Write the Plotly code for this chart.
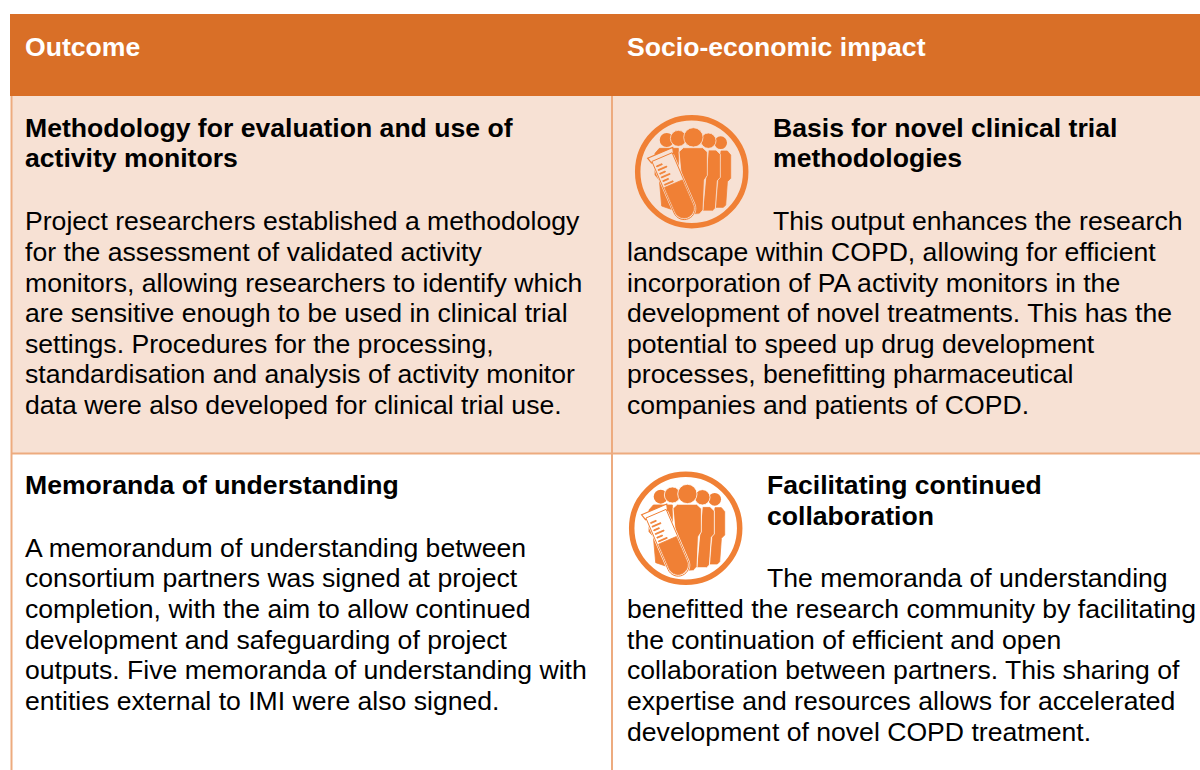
import math
import plotly.graph_objects as go

HEADERS = ["Outcome", "Socio-economic impact"]

ROW1_LEFT_TITLE = ["Methodology for evaluation and use of", "activity monitors"]
ROW1_LEFT_BODY = [
    "Project researchers established a methodology",
    "for the assessment of validated activity",
    "monitors, allowing researchers to identify which",
    "are sensitive enough to be used in clinical trial",
    "settings. Procedures for the processing,",
    "standardisation and analysis of activity monitor",
    "data were also developed for clinical trial use.",
]
ROW1_RIGHT_TITLE = ["Basis for novel clinical trial", "methodologies"]
ROW1_RIGHT_FIRST = "This output enhances the research"
ROW1_RIGHT_BODY = [
    "landscape within COPD, allowing for efficient",
    "incorporation of PA activity monitors in the",
    "development of novel treatments. This has the",
    "potential to speed up drug development",
    "processes, benefitting pharmaceutical",
    "companies and patients of COPD.",
]
ROW2_LEFT_TITLE = ["Memoranda of understanding"]
ROW2_LEFT_BODY = [
    "A memorandum of understanding between",
    "consortium partners was signed at project",
    "completion, with the aim to allow continued",
    "development and safeguarding of project",
    "outputs. Five memoranda of understanding with",
    "entities external to IMI were also signed.",
]
ROW2_RIGHT_TITLE = ["Facilitating continued", "collaboration"]
ROW2_RIGHT_FIRST = "The memoranda of understanding"
ROW2_RIGHT_BODY = [
    "benefitted the research community by facilitating",
    "the continuation of efficient and open",
    "collaboration between partners. This sharing of",
    "expertise and resources allows for accelerated",
    "development of novel COPD treatment.",
]

HEAD_BG = "#D96F27"
ROW_BG = "#F7E1D4"
RULE = "#EDAB7F"
ICON = "#F08035"
FONT = "Liberation Sans"
SIZE = 26.6

shapes, notes = [], []


def rect(x0, y0, x1, y1, color):
    shapes.append(dict(type="rect", xref="x", yref="y", x0=x0, y0=y0, x1=x1, y1=y1,
                       fillcolor=color, line=dict(width=0), layer="below"))


def text(x, y, s, bold=False, color="#000000"):
    notes.append(dict(x=x - 1, y=y, xref="x", yref="y", text=f"<b>{s}</b>" if bold else s,
                      showarrow=False, xanchor="left", yanchor="middle", align="left",
                      borderpad=0, font=dict(family=FONT, size=SIZE, color=color)))


def block(x, ys, lines, bold=False):
    for y, s in zip(ys, lines):
        text(x, y, s, bold)


# Table frame
rect(10, 14, 1200, 96, HEAD_BG)
rect(12, 96, 1200, 453, ROW_BG)
rect(10.5, 96, 12.5, 770, RULE)
rect(611, 96, 613, 770, RULE)
rect(11, 452.5, 1200, 454.5, RULE)


def icon(cx, cy, bg):
    k = 1 / 3

    def P(pts, fill, line=None, lw=0.8, close=True):
        d = ""
        for i, (a, b) in enumerate(pts):
            d += f"{'M' if i == 0 else 'L'}{cx + (a - 245) * k:.2f},{cy + (b - 215) * k:.2f} "
        shapes.append(dict(type="path", xref="x", yref="y", path=d + ("Z" if close else ""),
                           fillcolor=fill, line=dict(color=line or fill, width=lw)))

    def C(a, b, r, fill=ICON, line=None, lw=0):
        shapes.append(dict(type="circle", xref="x", yref="y",
                           x0=cx + (a - 245 - r) * k, x1=cx + (a - 245 + r) * k,
                           y0=cy + (b - 215 - r) * k, y1=cy + (b - 215 + r) * k,
                           fillcolor=fill, line=dict(color=line or fill, width=lw)))

    C(245, 215, 162, fill="rgba(0,0,0,0)", line=ICON, lw=5.5)
    # heads
    C(332, 128, 19)
    C(170, 120, 21)
    C(295, 122, 23, line=bg, lw=0.8)
    C(205, 115, 24, line=bg, lw=0.8)
    C(250, 112, 29, line=bg, lw=0.8)
    # bodies
    P([(333, 153), (352, 153), (362, 165), (362, 235), (352, 245), (347, 315), (340, 322), (318, 322)], ICON)
    P([(135, 160), (148, 145), (205, 145), (205, 335), (155, 318), (148, 240), (135, 225)], ICON)
    P([(295, 150), (318, 150), (331, 163), (331, 232), (322, 242), (316, 325), (308, 333), (278, 333)], ICON, bg)
    P([(207, 155), (220, 143), (278, 143), (292, 156), (292, 226), (283, 240), (279, 330), (268, 342), (225, 345)], ICON, bg)

    # tube, in its own axes: u across, t along
    ux, uy = 0.919, -0.395
    tx, ty = 0.395, 0.919
    ox, oy = 152, 162

    def T(u, t):
        return (ox + u * ux + t * tx, oy + u * uy + t * ty)

    def capsule(w, t0, t1):
        pts = [T(-w, t0), T(w, t0), T(w, t1 - w)]
        for i in range(1, 16):
            a = math.pi * i / 16
            pts.append(T(w * math.cos(a), t1 - w + w * math.sin(a)))
        pts.append(T(-w, t1 - w))
        return pts

    P(capsule(35, 12, 213), bg)
    P([T(-41, -4), T(41, -4), T(36, 14), T(-36, 14)], bg, ICON, 1.2)
    P(capsule(33, 10, 211), bg, ICON, 1.0)
    P(capsule(29, 97, 206), ICON)
    for j, t in enumerate([28, 40, 52, 64, 76, 88]):
        w = 28 if j % 2 else 18
        P([T(-26, t), T(-26 + w, t), T(-26 + w, t + 3), T(-26, t + 3)], ICON)


icon(691.7, 171.7, ROW_BG)
icon(685.7, 528.3, "#FFFFFF")

# Header text
text(25, 47, HEADERS[0], True, "#FFFFFF")
text(627, 47, HEADERS[1], True, "#FFFFFF")

# Row 1
block(25, [128, 158], ROW1_LEFT_TITLE, True)
block(25, [221, 252, 283, 313, 344, 374, 405], ROW1_LEFT_BODY)
block(773, [128, 158], ROW1_RIGHT_TITLE, True)
text(773, 221, ROW1_RIGHT_FIRST)
block(627, [252, 283, 313, 344, 374, 405], ROW1_RIGHT_BODY)

# Row 2
block(25, [485], ROW2_LEFT_TITLE, True)
block(25, [548, 578, 609, 640, 670, 701], ROW2_LEFT_BODY)
block(767, [485, 516], ROW2_RIGHT_TITLE, True)
text(767, 578, ROW2_RIGHT_FIRST)
block(627, [609, 640, 670, 701, 732], ROW2_RIGHT_BODY)

fig = go.Figure()
fig.update_layout(
    width=1200, height=770, autosize=False,
    margin=dict(l=0, r=0, t=0, b=0),
    paper_bgcolor="#FFFFFF", plot_bgcolor="#FFFFFF",
    xaxis=dict(range=[0, 1200], visible=False, fixedrange=True),
    yaxis=dict(range=[770, 0], visible=False, fixedrange=True),
    showlegend=False, shapes=shapes, annotations=notes,
)
fig.write_html(
    "out.html",
    config=dict(displayModeBar=False),
    post_script="document.body.style.margin='0';document.documentElement.style.overflow='hidden';",
)
